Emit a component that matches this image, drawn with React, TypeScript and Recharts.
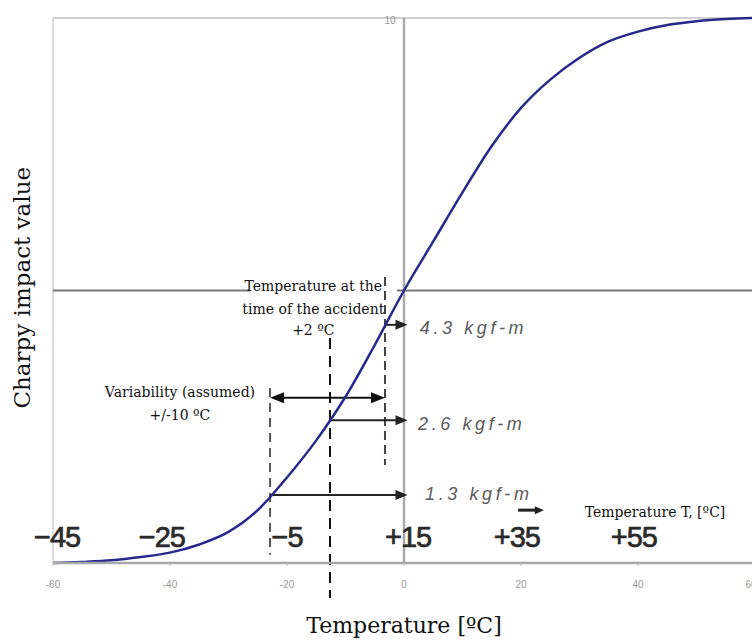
import { Line, LineChart, ReferenceDot, ReferenceLine, XAxis, YAxis } from "recharts";

// temperature on the lower axis [°C]
const temps = [-60, -55, -50, -45, -40, -35, -30, -25, -20, -15, -10, -5, 0, 5, 10, 15, 20, 25, 30, 35, 40, 45, 50, 55, 60];
// Charpy impact value
const charpy = [0, 0.02, 0.05, 0.11, 0.19, 0.34, 0.57, 0.97, 1.57, 2.25, 3.05, 4.0, 5.0, 5.9, 6.8, 7.65, 8.35, 8.87, 9.27, 9.57, 9.75, 9.87, 9.94, 9.98, 10.0];
const xTicks = [-60, -40, -20, 0, 20, 40, 60];

// the overlaid "Temperature T" scale
const tLabels = ["\u221245", "\u221225", "\u22125", "+15", "+35", "+55"];
const tLabelAt = [-59.3, -41.4, -20.0, 0.7, 19.3, 39.3];

// impact values marked with arrows
const kgfLabels = ["4.3 kgf-m", "2.6 kgf-m", "1.3 kgf-m"];
const kgfLevels = [4.37, 2.62, 1.25];
const kgfFrom = [-3.25, -12.65, -22.9];
const kgfLabelY = [4.32, 2.55, 1.27];
const kgfLabelX = [2.7, 2.4, 3.6];

const accidentT = -12.65;
const variability = [-22.9, -3.25];

const data = temps.map((t, i) => ({ t, v: charpy[i] }));

const SERIF = "'DejaVu Serif', serif";
const SANS = "'Liberation Sans', Arial, sans-serif";

const arrow =
  (color: string, width: number, both = false, len = 12, half = 5) =>
  (p: any) => {
    const { x1, y1, x2, y2 } = p;
    const a = Math.atan2(y2 - y1, x2 - x1);
    const head = (x: number, y: number, ang: number) => {
      const bx = x - len * Math.cos(ang);
      const by = y - len * Math.sin(ang);
      const nx = -Math.sin(ang) * half;
      const ny = Math.cos(ang) * half;
      return `${x},${y} ${bx + nx},${by + ny} ${bx - nx},${by - ny}`;
    };
    const sx = both ? x1 + (len - 2) * Math.cos(a) : x1;
    const sy = both ? y1 + (len - 2) * Math.sin(a) : y1;
    return (
      <g>
        <line x1={sx} y1={sy} x2={x2 - (len - 2) * Math.cos(a)} y2={y2 - (len - 2) * Math.sin(a)} stroke={color} strokeWidth={width} />
        <polygon points={head(x2, y2, a)} fill={color} />
        {both && <polygon points={head(x1, y1, a + Math.PI)} fill={color} />}
      </g>
    );
  };

const note =
  (text: string, style: any = {}) =>
  (p: any) => (
    <text
      x={p.cx}
      y={p.cy}
      textAnchor={style.anchor ?? "middle"}
      dominantBaseline="central"
      fontFamily={style.family ?? SERIF}
      fontSize={style.size ?? 14}
      fill={style.fill ?? "#111"}
      stroke={style.stroke ?? "none"}
      strokeWidth={style.strokeWidth ?? 0}
      fontStyle={style.italic ? "italic" : "normal"}
      fontWeight={style.weight ?? "normal"}
      letterSpacing={style.spacing ?? 0}
      transform={style.rotate ? `rotate(${style.rotate}, ${p.cx}, ${p.cy})` : undefined}
    >
      {text}
    </text>
  );

export default function App() {
  return (
    <div style={{ position: "absolute", left: 0, top: 0, width: 752, height: 641, overflow: "hidden", background: "#fff" }}>
      <LineChart width={756} height={641} data={data} margin={{ top: 18, right: 1, left: 53, bottom: 0 }}>
        <XAxis
          dataKey="t"
          type="number"
          domain={[-60, 60]}
          ticks={xTicks}
          height={78}
          axisLine={{ stroke: "#a8a8a8", strokeWidth: 2.5 }}
          tickLine={{ stroke: "#bbb" }}
          tickSize={3}
          tickMargin={15}
          tick={{ fontSize: 10, fill: "#9a9a9a", fontFamily: SANS }}
          label={{ value: "Temperature [\u00baC]", position: "insideBottom", offset: 8, fontSize: 22, fill: "#111", fontFamily: SERIF }}
        />
        <YAxis type="number" domain={[0, 10]} hide />

        {/* frame and reference axes */}
        <ReferenceLine y={10} stroke="#cfcfcf" strokeWidth={2} ifOverflow="visible" />
        <ReferenceLine x={-60} stroke="#dcdcdc" strokeWidth={2} ifOverflow="visible" />
        <ReferenceLine x={0} stroke="#aaa" strokeWidth={2.5} ifOverflow="visible" />
        <ReferenceLine segment={[{ x: -60, y: 5 }, { x: -26.3, y: 5 }]} stroke="#777" strokeWidth={2} ifOverflow="visible" />
        <ReferenceLine segment={[{ x: -1.2, y: 5 }, { x: 60, y: 5 }]} stroke="#777" strokeWidth={2} ifOverflow="visible" />
        <ReferenceDot x={-2.4} y={9.96} r={0} ifOverflow="visible" shape={note("10", { size: 10, fill: "#999", family: SANS })} />

        {/* dashed guide lines */}
        <ReferenceLine segment={[{ x: accidentT, y: 4.13 }, { x: accidentT, y: -0.64 }]} stroke="#111" strokeWidth={2} strokeDasharray="11 7" ifOverflow="visible" />
        <ReferenceLine segment={[{ x: variability[0], y: 3.21 }, { x: variability[0], y: 0.15 }]} stroke="#222" strokeWidth={1.5} strokeDasharray="9 6" ifOverflow="visible" />
        <ReferenceLine segment={[{ x: variability[1], y: 5.25 }, { x: variability[1], y: 1.8 }]} stroke="#444" strokeWidth={2} strokeDasharray="9 5" ifOverflow="visible" />

        {/* arrows */}
        <ReferenceLine
          segment={[{ x: variability[0], y: 3.03 }, { x: variability[1], y: 3.03 }]}
          ifOverflow="visible"
          shape={arrow("#111", 2, true, 14, 5.5)}
        />
        {kgfLevels.map((lv, i) => (
          <ReferenceLine
            key={"a" + i}
            segment={[{ x: kgfFrom[i], y: lv }, { x: 0.6, y: lv }]}
            ifOverflow="visible"
            shape={arrow("#222", 2, false, 12, 5)}
          />
        ))}
        <ReferenceLine segment={[{ x: 19.5, y: 0.97 }, { x: 23.9, y: 0.97 }]} ifOverflow="visible" shape={arrow("#222", 3, false, 9, 4)} />

        <Line type="monotone" dataKey="v" stroke="#28288c" strokeWidth={2.5} dot={false} isAnimationActive={false} />

        {/* value labels */}
        {kgfLabels.map((s, i) => (
          <ReferenceDot
            key={"k" + i}
            x={kgfLabelX[i]}
            y={kgfLabelY[i]}
            r={0}
            ifOverflow="visible"
            shape={note(s, { anchor: "start", family: SANS, size: 18, italic: true, fill: "#5a5a5a", spacing: 3.6 })}
          />
        ))}
        {tLabels.map((s, i) => (
          <ReferenceDot
            key={"t" + i}
            x={tLabelAt[i]}
            y={0.48}
            r={0}
            ifOverflow="visible"
            shape={note(s, { family: SANS, size: 29, fill: "#2a2a2a", stroke: "#2a2a2a", strokeWidth: 0.7, spacing: -1 })}
          />
        ))}

        {/* annotations */}
        <ReferenceDot x={-15.5} y={5.08} r={0} ifOverflow="visible" shape={note("Temperature at the")} />
        <ReferenceDot x={-15.5} y={4.66} r={0} ifOverflow="visible" shape={note("time of the accident")} />
        <ReferenceDot x={-15.5} y={4.28} r={0} ifOverflow="visible" shape={note("+2  \u00baC")} />
        <ReferenceDot x={-38.3} y={3.14} r={0} ifOverflow="visible" shape={note("Variability (assumed)")} />
        <ReferenceDot x={-38.3} y={2.72} r={0} ifOverflow="visible" shape={note("+/-10 \u00baC")} />
        <ReferenceDot x={30.9} y={0.93} r={0} ifOverflow="visible" shape={note("Temperature T, [\u00baC]", { anchor: "start" })} />
        <ReferenceDot x={-65.3} y={5.05} r={0} ifOverflow="visible" shape={note("Charpy impact value", { size: 23, rotate: -90 })} />
      </LineChart>
    </div>
  );
}
